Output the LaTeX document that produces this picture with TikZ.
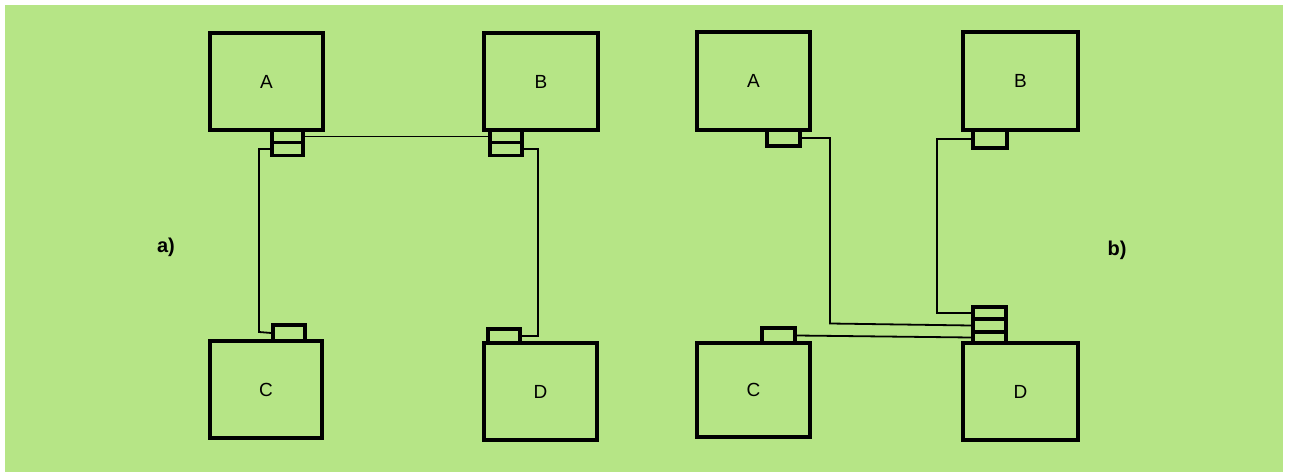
\documentclass[tikz,border=0pt]{standalone}
\usepackage{fontspec}
\setmainfont{Liberation Sans}
\definecolor{paper}{RGB}{182,229,134}
\tikzset{
  unit/.style={draw=black, line width=3.5pt, fill=none, inner sep=0pt,
    font=\fontsize{19}{19}\selectfont},
  port/.style={draw=black, line width=3.2pt, inner sep=0pt},
  wire/.style={draw=black, line width=1.8pt},
  tag/.style={font=\fontsize{20}{20}\selectfont\bfseries, inner sep=0pt}
}
\begin{document}
\begin{tikzpicture}[x=1pt, y=-1pt]
  % page and coloured sheet
  \useasboundingbox (0,0) rectangle (1289,476);
  \fill[white] (0,0) rectangle (1289,476);
  \fill[paper] (5,5) rectangle (1283,472);

  % ---------- a) every unit has its own port block ----------
  \node[unit, minimum width=113pt, minimum height=97pt] (A1) at (266.5,81.5) {A};
  \node[unit, minimum width=114pt, minimum height=97pt] (B1) at (541,81.5) {B};
  \node[unit, minimum width=112pt, minimum height=97pt] (C1) at (266,389.5) {C};
  \node[unit, minimum width=113pt, minimum height=97pt] (D1) at (540.5,391.5) {D};

  \node[port, minimum width=31pt, minimum height=12.5pt] (pa1) at (287.5,136.5) {};
  \node[port, minimum width=31pt, minimum height=12.5pt] (pa2) at (287.5,149) {};
  \node[port, minimum width=32pt, minimum height=12.5pt] (pb1) at (506,136.5) {};
  \node[port, minimum width=32pt, minimum height=12.5pt] (pb2) at (506,149) {};
  \node[port, minimum width=32pt, minimum height=16pt] (pc1) at (289,333) {};
  \node[port, minimum width=32pt, minimum height=14pt] (pd1) at (504,336) {};

  \coordinate (ka) at (259,332);
  \coordinate (kb) at (538,336);

  \draw[wire] (pa1.east) -- (pb1.west);
  \draw[wire] (pa2.west) -| (ka) -- (pc1.west);
  \draw[wire] (pb2.east) -| (kb) -- (pd1.east);

  \node[tag] (la) at (166,247) {a)};

  % ---------- b) all lines gathered at unit D ----------
  \node[unit, minimum width=113pt, minimum height=98pt] (A2) at (753.5,81) {A};
  \node[unit, minimum width=115pt, minimum height=98pt] (B2) at (1020.5,81) {B};
  \node[unit, minimum width=113pt, minimum height=94pt] (C2) at (753.5,390) {C};
  \node[unit, minimum width=115pt, minimum height=97pt] (D2) at (1020.5,391.5) {D};

  \node[port, minimum width=33pt, minimum height=16pt] (qa) at (783.5,138) {};
  \node[port, minimum width=34pt, minimum height=18pt] (qb) at (990,139) {};
  \node[port, minimum width=33pt, minimum height=15pt] (qc) at (778.5,335.5) {};
  \node[port, minimum width=33pt, minimum height=12pt] (qd1) at (989.5,313) {};
  \node[port, minimum width=33pt, minimum height=13pt] (qd2) at (989.5,325.5) {};
  \node[port, minimum width=33pt, minimum height=11pt] (qd3) at (989.5,337.5) {};

  \coordinate (ma) at (830,323.5);
  \coordinate (mb) at (937,313);

  \draw[wire] (qa.east) -| (ma) -- (qd2.west);
  \draw[wire] (qb.west) -| (mb) -- (qd1.west);
  \draw[wire] (qc.east) -- (qd3.west);

  \node[tag] (lb) at (1117,250) {b)};
\end{tikzpicture}
\end{document}
